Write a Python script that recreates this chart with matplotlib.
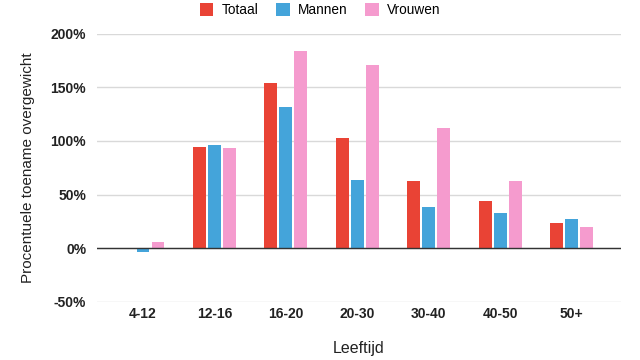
import matplotlib
matplotlib.use("Agg")
import matplotlib.pyplot as plt
import numpy as np

categories = ["4-12", "12-16", "16-20", "20-30", "30-40", "40-50", "50+"]
totaal = [0, 94, 154, 103, 63, 44, 23.5]
mannen = [-4, 96, 132, 64, 38, 33, 27]
vrouwen = [5.5, 93, 184, 171, 112, 63, 19.5]
series_names = ["Totaal", "Mannen", "Vrouwen"]
colors = ["#E94335", "#44A4DA", "#F59BCE"]
yticks = [-50, 0, 50, 100, 150, 200]

plt.rcParams['font.family'] = ['Liberation Sans', 'DejaVu Sans']

fig = plt.figure(figsize=(6.4, 3.6), dpi=100)
ax = fig.add_axes([0.152, 0.162, 0.818, 0.744])

x = np.arange(len(categories))
w = 0.18
step = 0.21
for i, (vals, name, c) in enumerate(zip([totaal, mannen, vrouwen], series_names, colors)):
    ax.bar(x + (i - 1) * step, vals, width=w, color=c, label=name, zorder=3)

ax.set_ylim(-50, 200)
ax.set_xlim(-0.64, 6.69)
ax.set_yticks(yticks)
ax.set_yticklabels([f"{v}%" for v in yticks], fontsize=10, fontweight='bold', color='#222222')
ax.set_xticks(x)
ax.set_xticklabels(categories, fontsize=10, fontweight='bold', color='#222222')
ax.tick_params(axis='y', length=0, pad=8)
ax.tick_params(axis='x', length=0, pad=4)
ax.grid(axis='y', color='#d9d9d9', linewidth=1, zorder=0)
ax.axhline(0, color='#333333', linewidth=1, zorder=4)
for s in ax.spines.values():
    s.set_visible(False)

ax.set_ylabel("Procentuele toename overgewicht", fontsize=11, color='#222222', labelpad=11)
ax.set_xlabel("Leeftijd", fontsize=11.5, color='#222222', labelpad=14)

fig.legend(loc='upper center', bbox_to_anchor=(0.5, 1.025), ncol=3, frameon=False,
           fontsize=9.8, handlelength=1.0, handleheight=1.0, handletextpad=0.6, columnspacing=1.3)

fig.savefig("out.png", dpi=100)
